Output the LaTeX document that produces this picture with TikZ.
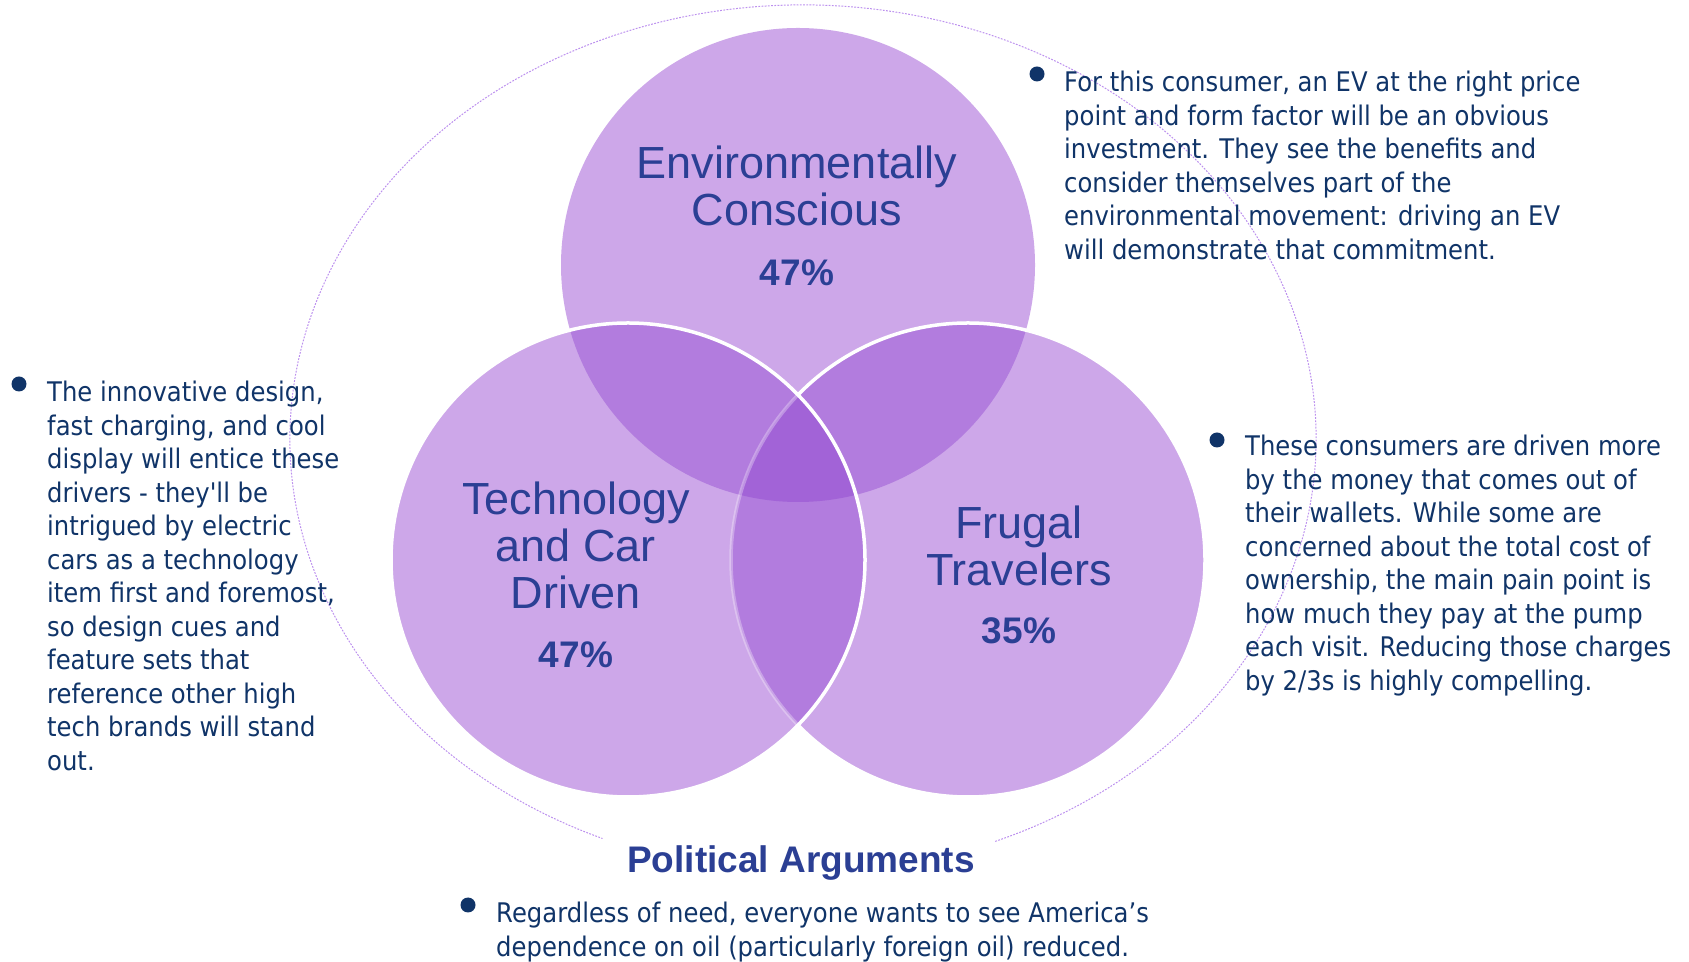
\documentclass[tikz,border=0pt]{standalone}
\usepackage{fontspec}
\setmainfont{Liberation Sans}
\newfontfamily\labelfont{Liberation Sans}
\newfontfamily\bodyfont[FakeStretch=0.90]{DejaVu Sans}

\definecolor{vlight}{HTML}{CDA7E9}
\definecolor{vdouble}{HTML}{B27CDE}
\definecolor{vtriple}{HTML}{A263D7}
\definecolor{ringline}{HTML}{BC90EE}
\definecolor{navytext}{HTML}{103468}
\definecolor{labelblue}{HTML}{2B3F94}

\tikzset{
  circlabel/.style={anchor=base, inner sep=0pt, text=labelblue,
    font=\labelfont\fontsize{45}{47}\selectfont},
  pctlabel/.style={anchor=base, inner sep=0pt, text=labelblue,
    font=\labelfont\bfseries\fontsize{37}{40}\selectfont},
  bodytext/.style={anchor=base west, inner sep=0pt, text=navytext,
    font=\bodyfont\fontsize{27}{33.5}\selectfont},
  bulletdot/.style={circle, fill=navytext, inner sep=0pt, minimum size=15pt},
  whiterim/.style={draw=white, line width=3.5pt},
}

\begin{document}
\begin{tikzpicture}[x=1pt, y=1pt]
\useasboundingbox (0,0) rectangle (1689,961);

% centres of the three sets
\coordinate (cE) at (798,696);
\coordinate (cT) at (628,401);
\coordinate (cF) at (968,401);
\def\rad{237}

% dotted outer ring, open at the bottom
\draw[ringline, line width=1pt, dash pattern=on 1.8pt off 1.4pt]
  (803,522) ++(-68:513 and 434)
  arc[start angle=-68, end angle=247, x radius=513, y radius=434];

% base discs
\fill[vlight] (cE) circle[radius=\rad];
\fill[vlight] (cT) circle[radius=\rad];
\fill[vlight] (cF) circle[radius=\rad];

% pairwise overlaps
\begin{scope}
  \clip (cE) circle[radius=\rad];
  \fill[vdouble] (cT) circle[radius=\rad];
  \fill[vdouble] (cF) circle[radius=\rad];
\end{scope}
\begin{scope}
  \clip (cT) circle[radius=\rad];
  \fill[vdouble] (cF) circle[radius=\rad];
\end{scope}

% centre overlap
\begin{scope}
  \clip (cE) circle[radius=\rad];
  \clip (cT) circle[radius=\rad];
  \fill[vtriple] (cF) circle[radius=\rad];
\end{scope}

% rims: right disc under the left one
\begin{scope}[even odd rule]
  \clip (0,0) rectangle (1689,961) (cT) circle[radius=\rad];
  \draw[whiterim] (cF) circle[radius=\rad];
\end{scope}
\begin{scope}
  \clip (cT) circle[radius=\rad];
  \draw[whiterim, draw opacity=0.3] (cF) circle[radius=\rad];
\end{scope}
\draw[whiterim] (cT) circle[radius=\rad];

% set names and shares
\node[circlabel] (envname) at (797,782)
  {\parbox[t]{420pt}{\centering Environmentally\\Conscious}};
\node[pctlabel] (envpct) at (797,675) {47\%};

\node[circlabel] (techname) at (576,446)
  {\parbox[t]{420pt}{\centering Technology\\and Car\\Driven}};
\node[pctlabel] (techpct) at (576,293) {47\%};

\node[circlabel] (frugname) at (1019,422)
  {\parbox[t]{420pt}{\centering Frugal\\Travelers}};
\node[pctlabel] (frugpct) at (1019,317) {35\%};

% commentary
\node[bulletdot] (dotE) at (1037,887) {};
\node[bodytext] (txtE) at (1064,869) {\parbox[t]{640pt}{\raggedright
For this consumer, an EV at the right price\\
point and form factor will be an obvious\\
investment. They see the benefits and\\
consider themselves part of the\\
environmental movement: driving an EV\\
will demonstrate that commitment.}};

\node[bulletdot] (dotT) at (19,577) {};
\node[bodytext] (txtT) at (47,559) {\parbox[t]{640pt}{\raggedright
The innovative design,\\
fast charging, and cool\\
display will entice these\\
drivers - they'll be\\
intrigued by electric\\
cars as a technology\\
item first and foremost,\\
so design cues and\\
feature sets that\\
reference other high\\
tech brands will stand\\
out.}};

\node[bulletdot] (dotF) at (1217,521) {};
\node[bodytext] (txtF) at (1245,505) {\parbox[t]{640pt}{\raggedright
These consumers are driven more\\
by the money that comes out of\\
their wallets. While some are\\
concerned about the total cost of\\
ownership, the main pain point is\\
how much they pay at the pump\\
each visit. Reducing those charges\\
by 2/3s is highly compelling.}};

\node[anchor=base, inner sep=0pt, text=labelblue,
  font=\labelfont\bfseries\fontsize{37}{40}\selectfont] (poltitle) at (801,88)
  {Political Arguments};
\node[bulletdot] (dotP) at (468,56) {};
\node[bodytext, font=\bodyfont\fontsize{27}{34}\selectfont] (txtP) at (496,38)
  {\parbox[t]{800pt}{\raggedright
Regardless of need, everyone wants to see America’s\\
dependence on oil (particularly foreign oil) reduced.}};
\end{tikzpicture}
\end{document}
